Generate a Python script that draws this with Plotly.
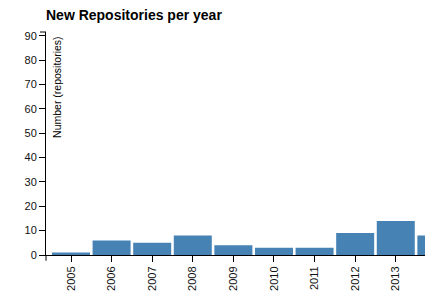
import plotly.graph_objects as go

years = ['2005', '2006', '2007', '2008', '2009', '2010', '2011', '2012', '2013', '2014']
counts = [1, 6, 5, 8, 4, 3, 3, 9, 14, 8]
y_ticks = [0, 10, 20, 30, 40, 50, 60, 70, 80, 90]

# page body has an 8px margin; compensate so the plot lands at the reference position
OFF = 8
W, H = 437 - OFF, 303 - OFF
L, R, T, B = 46 - OFF, 12, 32 - OFF, 46 - OFF
pw = W - L - R
ph = H - T - B

fig = go.Figure(go.Bar(
    x=years, y=counts,
    marker=dict(color='#4682B4', line=dict(width=0)),
    hoverinfo='x+y',
))

fig.update_layout(
    width=W, height=H,
    margin=dict(l=L, r=R, t=T, b=B),
    paper_bgcolor='white', plot_bgcolor='white',
    font=dict(family='Liberation Sans, Arial, sans-serif', size=11, color='#111'),
    bargap=0.064,
    showlegend=False,
    title=dict(text='<b>New Repositories per year</b>', x=L / W, xanchor='left',
               y=1 - (15 - OFF) / H, yanchor='middle', font=dict(size=14, color='#000')),
    xaxis=dict(type='category', range=[-0.616, 8.72], showline=True, linecolor='#000',
               linewidth=1, ticks='outside', ticklen=6, tickcolor='#000', tickangle=-90,
               showgrid=False, zeroline=False, tickfont=dict(size=11)),
    yaxis=dict(range=[0, 91.5], tickvals=y_ticks, showline=True, linecolor='#000',
               linewidth=1, ticks='outside', ticklen=6, tickcolor='#000',
               showgrid=False, zeroline=False, tickfont=dict(size=11)),
)

# y-axis title inside plot
fig.add_annotation(text='Number (repositories)', xref='paper', yref='paper',
                   x=11 / pw, y=1 - 2 / ph, xanchor='center', yanchor='top',
                   textangle=-90, showarrow=False, font=dict(size=10.5, color='#000'))

# d3-style outer ticks at axis ends
fig.add_shape(type='line', xref='paper', yref='paper', x0=-6 / pw, x1=0, y0=1, y1=1,
              line=dict(color='#000', width=1))
fig.add_shape(type='line', xref='paper', yref='paper', x0=0, x1=0, y0=0, y1=-6 / ph,
              line=dict(color='#000', width=1))

fig.write_html('out.html')
